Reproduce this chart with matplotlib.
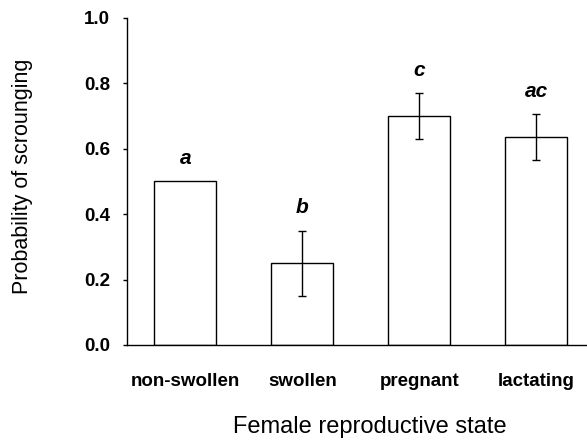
import matplotlib.pyplot as plt

# Scrounging probability by female reproductive state
states = ['non-swollen', 'swollen', 'pregnant', 'lactating']
prob = [0.50, 0.25, 0.70, 0.635]
err = [0.0, 0.10, 0.07, 0.07]
letters = ['a', 'b', 'c', 'ac']
yticks = [0.0, 0.2, 0.4, 0.6, 0.8, 1.0]

plt.rcParams['font.family'] = ['Liberation Sans', 'DejaVu Sans']

fig = plt.figure(figsize=(5.87, 4.42), dpi=100)
ax = fig.add_axes([0.2164, 0.2195, 0.7826, 0.7398])

x = list(range(len(states)))
ax.bar(x, prob, width=0.53, color='white', edgecolor='black', linewidth=1.0)
for xi, p, e in zip(x, prob, err):
    if e > 0:
        ax.errorbar(xi, p, yerr=e, fmt='none', ecolor='black',
                    elinewidth=1.0, capsize=3, capthick=1.0)

# significance letters above each bar
for xi, p, e, s in zip(x, prob, err, letters):
    ax.text(xi, p + e + 0.07, s, ha='center', va='center',
            fontsize=15, fontweight='bold', fontstyle='italic')

ax.set_xlim(-0.5, 3.43)
ax.set_ylim(0, 1.0)
ax.set_yticks(yticks)
ax.set_yticklabels(['%.1f' % v for v in yticks])
ax.set_xticks(x)
ax.set_xticklabels(states)

for side in ['top', 'right']:
    ax.spines[side].set_visible(False)
ax.spines['left'].set_linewidth(1.0)
ax.spines['bottom'].set_linewidth(1.0)

ax.tick_params(axis='y', direction='out', length=3, width=1, pad=9,
               labelsize=13.5)
ax.tick_params(axis='x', length=0, pad=20, labelsize=13.5)
for lab in ax.get_yticklabels() + ax.get_xticklabels():
    lab.set_fontweight('bold')

fig.text(0.038, 0.60, 'Probability of scrounging', rotation=90,
         ha='center', va='center', fontsize=15.5)
fig.text(0.63, 0.034, 'Female reproductive state',
         ha='center', va='center', fontsize=17)

fig.savefig('out.png', dpi=100)
